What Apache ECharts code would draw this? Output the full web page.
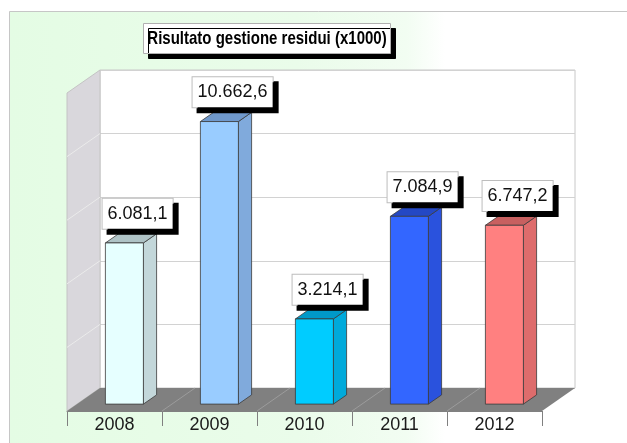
<!DOCTYPE html>
<html>
<head>
<meta charset="utf-8">
<script src="https://cdn.jsdelivr.net/npm/echarts@6/dist/echarts.min.js"></script>
<style>
  html, body { margin: 0; padding: 0; background: #fff; }
  #chart { width: 627px; height: 443px; }
</style>
</head>
<body>
<div id="chart"></div>
<script>
// dati del grafico
const titolo = 'Risultato gestione residui (x1000)';
const anni = ['2008', '2009', '2010', '2011', '2012'];
const valori = [6081.1, 10662.6, 3214.1, 7084.9, 6747.2];
const assiMax = 12000;
const assiPasso = 2400;

// colori delle barre: fronte, lato, cima
const coloriFronte = ['#e6ffff', '#99ccff', '#00ccff', '#3366ff', '#ff8080'];
const coloriLato = ['#c3d7da', '#80aadc', '#00aadb', '#2a52dd', '#de6c6c'];
const coloriCima = ['#afc3c6', '#7099cc', '#0099c8', '#2448c4', '#c86060'];

// profondita' 3D: spostamento dal muro di fondo al bordo anteriore
const DX = -33, DY = 23;
const F0 = 0.3, F1 = 0.7;
const FONT = '"Liberation Sans", Arial, sans-serif';

// formato italiano 10.662,6
function formatta (v) {
  const parti = v.toFixed(1).split('.');
  return parti[0].replace(/\B(?=(\d{3})+(?!\d))/g, '.') + ',' + parti[1];
}

// pareti e pavimento
function disegnaPareti (params, api) {
  const cs = params.coordSys;
  const x0 = cs.x, y0 = cs.y, x1 = cs.x + cs.width, y1 = cs.y + cs.height;
  const children = [];
  children.push({
    type: 'polygon',
    shape: { points: [[x0, y0], [x0, y1], [x0 + DX, y1 + DY], [x0 + DX, y0 + DY]] },
    style: { fill: '#d9d7dc', stroke: '#c4c4c4', lineWidth: 1 }
  });
  for (let v = assiPasso; v < assiMax; v += assiPasso) {
    const y = api.coord([0, v])[1];
    children.push({
      type: 'line',
      shape: { x1: x0, y1: y, x2: x0 + DX, y2: y + DY },
      style: { stroke: '#ebebeb', lineWidth: 1 }
    });
  }
  children.push({
    type: 'polygon',
    shape: { points: [[x0, y1], [x1, y1], [x1 + DX, y1 + DY], [x0 + DX, y1 + DY]] },
    style: { fill: '#808080' }
  });
  const w = cs.width / anni.length;
  for (let i = 1; i < anni.length; i++) {
    children.push({
      type: 'line',
      shape: { x1: x0 + i * w, y1: y1, x2: x0 + i * w + DX, y2: y1 + DY },
      style: { stroke: '#9c9c9c', lineWidth: 1 }
    });
  }
  return { type: 'group', children: children };
}

// barra 3D con etichetta
function disegnaBarra (params, api) {
  const i = api.value(0), v = api.value(1);
  const base = api.coord([i, 0]);
  const cima = api.coord([i, v]);
  const bw = api.size([1, 0])[0] * 0.4;
  const xl = base[0] - bw / 2 + DX * F1;
  const xr = xl + bw;
  const yb = base[1] + DY * F1;
  const yt = cima[1] + DY * F1;
  const ox = DX * (F0 - F1), oy = DY * (F0 - F1);
  const bordo = { stroke: '#3a3a3a', lineWidth: 0.8 };
  return {
    type: 'group',
    children: [
      {
        type: 'polygon',
        shape: { points: [[xr, yb], [xr, yt], [xr + ox, yt + oy], [xr + ox, yb + oy]] },
        style: Object.assign({ fill: coloriLato[i] }, bordo)
      },
      {
        type: 'polygon',
        shape: { points: [[xl, yt], [xr, yt], [xr + ox, yt + oy], [xl + ox, yt + oy]] },
        style: Object.assign({ fill: coloriCima[i] }, bordo)
      },
      {
        type: 'rect',
        shape: { x: xl, y: yt, width: bw, height: yb - yt },
        style: Object.assign({ fill: coloriFronte[i] }, bordo)
      },
      {
        type: 'text',
        x: base[0] + DX * F0,
        y: cima[1] + DY * F0 - 5,
        style: {
          text: formatta(v),
          font: '18px ' + FONT,
          fill: '#111',
          align: 'center',
          verticalAlign: 'bottom',
          lineHeight: 20,
          backgroundColor: '#fff',
          borderColor: '#bdbdbd',
          borderWidth: 1,
          padding: [5, 5, 5, 5],
          shadowColor: '#000',
          shadowBlur: 0,
          shadowOffsetX: 5,
          shadowOffsetY: 5
        }
      }
    ]
  };
}

const myChart = echarts.init(document.getElementById('chart'));
myChart.setOption({
  animation: false,
  graphic: [
    {
      type: 'rect',
      z: -10,
      shape: { x: 9.5, y: 11.5, width: 640, height: 460 },
      style: {
        fill: new echarts.graphic.LinearGradient(0, 0, 1, 0, [
          { offset: 0, color: '#e4fce4' },
          { offset: 0.45, color: '#eafcea' },
          { offset: 0.62, color: '#f2fdf2' },
          { offset: 0.68, color: '#ffffff' },
          { offset: 1, color: '#ffffff' }
        ]),
        stroke: '#c6c6c6',
        lineWidth: 1
      }
    },
    // titolo in riquadro con ombra
    {
      type: 'group',
      left: 143,
      top: 23,
      z: 10,
      children: [
        {
          type: 'rect',
          shape: { x: 0.5, y: 0.5, width: 247, height: 30 },
          style: {
            fill: '#fff', stroke: '#b0b0b0', lineWidth: 1,
            shadowColor: '#000', shadowBlur: 0, shadowOffsetX: 5, shadowOffsetY: 5
          }
        },
        {
          type: 'text',
          x: 124,
          y: 16,
          scaleX: 0.79,
          originX: 0,
          style: {
            text: titolo,
            font: 'bold 19px ' + FONT,
            fill: '#000',
            align: 'center',
            verticalAlign: 'middle'
          }
        }
      ]
    }
  ],
  grid: [
    {
      left: 100, top: 70, width: 475, height: 318,
      show: true, backgroundColor: '#fff', borderColor: '#c8c8c8', borderWidth: 1
    },
    { left: 67, top: 93, width: 475, height: 318 }
  ],
  xAxis: [
    {
      type: 'category', data: anni, gridIndex: 0,
      axisLine: { show: false }, axisTick: { show: false }, axisLabel: { show: false }
    },
    {
      type: 'category', data: anni, gridIndex: 1,
      axisLine: { show: true, lineStyle: { color: '#808080' } },
      axisTick: { show: true, length: 15, lineStyle: { color: '#808080' } },
      axisLabel: { margin: 5, fontSize: 18, color: '#1a1a1a', fontFamily: FONT }
    }
  ],
  yAxis: [
    {
      type: 'value', gridIndex: 0, min: 0, max: assiMax, interval: assiPasso,
      axisLine: { show: false }, axisTick: { show: false }, axisLabel: { show: false },
      splitLine: { show: true, lineStyle: { color: '#d2d2d2' } }
    },
    { type: 'value', gridIndex: 1, min: 0, max: assiMax, show: false, splitLine: { show: false } }
  ],
  series: [
    {
      type: 'custom',
      xAxisIndex: 0, yAxisIndex: 0,
      silent: true,
      z: 1,
      renderItem: disegnaPareti,
      data: [[0, 0]]
    },
    {
      type: 'custom',
      name: 'Risultato',
      xAxisIndex: 0, yAxisIndex: 0,
      z: 3,
      renderItem: disegnaBarra,
      data: valori.map((v, i) => [i, v])
    }
  ]
});
</script>
</body>
</html>
